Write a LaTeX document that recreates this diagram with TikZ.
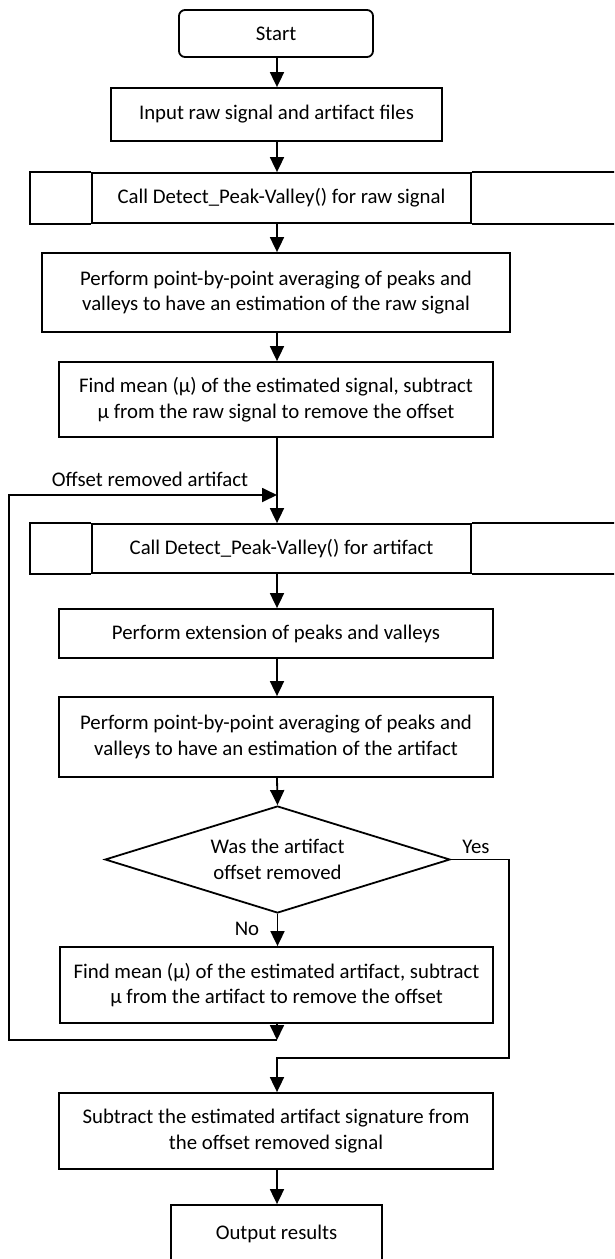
\documentclass[tikz,border=0pt]{standalone}
\usepackage{fontspec}
\setmainfont{Carlito}
\usetikzlibrary{arrows.meta,shapes.geometric}
\begin{document}
\begin{tikzpicture}[x=1pt,y=-1pt,
  line width=1.8pt,
  font=\fontsize{20.8}{25.7}\selectfont,
  arr/.style={-{Triangle[length=15pt,width=14pt]}},
  box/.style={draw,rectangle,align=center,inner sep=0pt},
  term/.style={box,rounded corners=6pt},
  decision/.style={draw,diamond,align=center,inner sep=0pt,
    minimum width=345pt,minimum height=107pt,aspect=3.22},
  lbl/.style={inner sep=0pt}]
\useasboundingbox (0,0) rectangle (614,1259);
\clip (0,0) rectangle (614,1259);

% process steps
\node[term] (start) at (276,33.5) [minimum width=194pt,minimum height=47pt] {Start};
\node[box] (input) at (276.5,114.5) [minimum width=331pt,minimum height=53pt] {Input raw signal and artifact files};
\node[box] (call1) at (281.5,198) [minimum width=379pt,minimum height=50pt] {Call Detect\_Peak-Valley() for raw signal};
\node[box] (perf1) at (276,292.5) [minimum width=468pt,minimum height=79pt]
  {Perform point-by-point averaging of peaks and\\valleys to have an estimation of the raw signal};
\node[box] (mean1) at (276,399.5) [minimum width=434pt,minimum height=75pt]
  {Find mean (µ) of the estimated signal, subtract\\µ from the raw signal to remove the offset};
\node[box] (call2) at (281.5,548.5) [minimum width=379pt,minimum height=49pt] {Call Detect\_Peak-Valley() for artifact};
\node[box] (ext) at (276,633.5) [minimum width=434pt,minimum height=49pt] {Perform extension of peaks and valleys};
\node[box] (perf2) at (276,737) [minimum width=434pt,minimum height=80pt]
  {Perform point-by-point averaging of peaks and\\valleys to have an estimation of the artifact};
\node[decision] (dec) at (277.5,859.5) {Was the artifact\\offset removed};
\node[box] (mean2) at (276.5,985) [minimum width=433pt,minimum height=76pt]
  {Find mean (µ) of the estimated artifact, subtract\\µ from the artifact to remove the offset};
\node[box] (sub) at (276,1131) [minimum width=434pt,minimum height=76pt]
  {Subtract the estimated artifact signature from\\the offset removed signal};
\node[box] (out) at (276.5,1234) [minimum width=211pt,minimum height=58pt] {Output results};

% side cells of the predefined-process boxes
\foreach \n in {call1,call2}{
  \draw (\n.north west) -- ++(-61,0) |- (\n.south west);
  \draw (\n.north east) -- ++(220,0);
  \draw (\n.south east) -- ++(220,0);
}

% junction points on the main column
\coordinate (j0) at (277,495);
\coordinate (j1) at (277,1040);
\coordinate (j2) at (277,1058);

% main flow
\draw[arr] (start.south -| 277,0) -- (input.north -| 277,0);
\draw[arr] (input.south -| 277,0) -- (call1.north -| 277,0);
\draw[arr] (call1.south -| 277,0) -- (perf1.north -| 277,0);
\draw[arr] (perf1.south -| 277,0) -- (mean1.north -| 277,0);
\draw[arr] (mean1.south -| 277,0) -- (call2.north -| 277,0);
\draw[arr] (call2.south -| 277,0) -- (ext.north -| 277,0);
\draw[arr] (ext.south -| 277,0) -- (perf2.north -| 277,0);
\draw[arr] (perf2.south -| 277,0) -- (dec.north);
\draw[arr] (dec.south) -- (mean2.north -| dec.south);
\draw[arr] (sub.south -| 277,0) -- (out.north -| 277,0);

% loop back for offset removal
\draw[arr] (mean2.south -| 277,0) -- (j1);
\draw[arr] (j1) -- (9,1040) |- (j0);
\node[lbl,anchor=west] (offlbl) at (51,479) {Offset removed artifact};

% exit when the offset is already removed
\draw[arr] (dec.east) -- (509,859.5) |- (j2) -- (sub.north -| j2);
\node[lbl] (yes) at (476,847) {Yes};
\node[lbl] (no) at (247,929) {No};
\end{tikzpicture}
\end{document}
